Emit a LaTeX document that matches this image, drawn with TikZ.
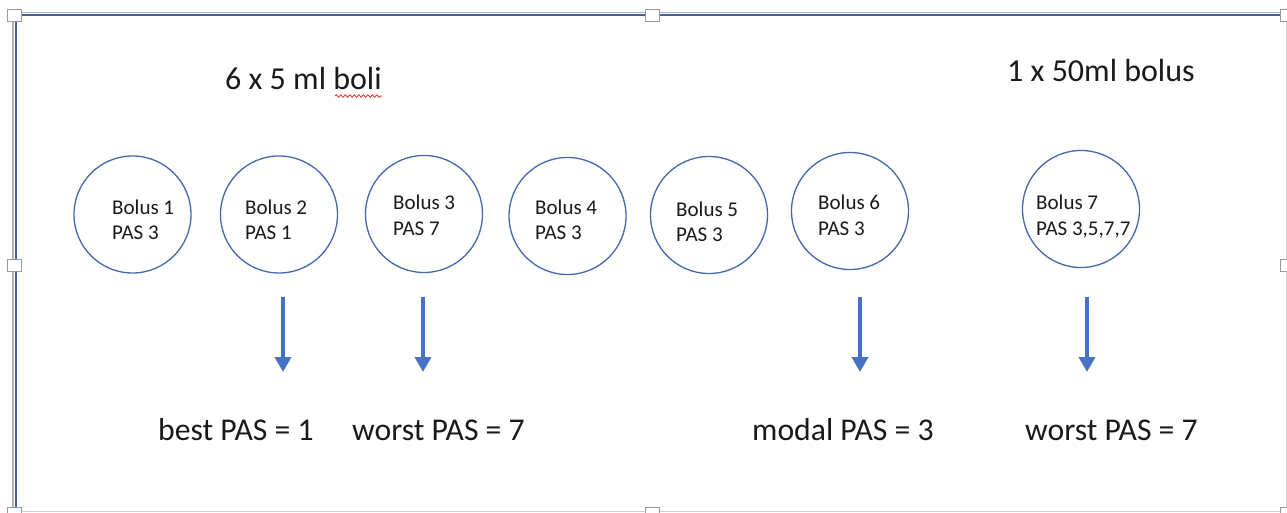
\documentclass[tikz,border=0pt]{standalone}
\usepackage{fontspec}
\setmainfont{Carlito}
\usetikzlibrary{arrows.meta,decorations.pathmorphing,shadows}

\definecolor{ringblue}{HTML}{4268AE}
\definecolor{arrowblue}{HTML}{4472C4}
\definecolor{frameblue}{HTML}{3E5FA6}
\definecolor{framegray}{HTML}{B4B4B4}
\definecolor{edgegray}{HTML}{D2D2D2}
\definecolor{inkgray}{HTML}{1A1A1A}
\definecolor{spellred}{HTML}{E0302E}

\begin{document}
\begin{tikzpicture}[x=1pt,y=-1pt,
  bolus/.style={circle, draw=ringblue, line width=1.3pt, minimum size=117pt, inner sep=0pt},
  % anchored at the baseline of the second line
  boltext/.style={anchor=base west, inner sep=0pt, align=left, text=inkgray,
                  font=\fontsize{21}{25}\selectfont},
  result/.style={anchor=base west, inner sep=0pt, text=inkgray,
                 font=\fontsize{31.7}{38}\selectfont},
  heading/.style={anchor=base west, inner sep=0pt, text=inkgray,
                  font=\fontsize{32}{38}\selectfont},
  pick/.style={-{Triangle[width=16pt,length=15pt]}, draw=arrowblue, line width=4pt},
  handle/.style={rectangle, draw=gray!80, fill=white, line width=0.8pt,
                 minimum width=14pt, minimum height=12pt, inner sep=0pt,
                 drop shadow={shadow xshift=0.8pt, shadow yshift=-0.8pt, opacity=0.35}}
]
\clip (0,0) rectangle (1287,513);
\useasboundingbox (0,0) rectangle (1287,513);
\fill[white] (0,0) rectangle (1287,513);

% selection frame
\coordinate (ftl) at (15,15);
\coordinate (ftr) at (1286,15);
\coordinate (fbl) at (15,511);
\coordinate (fbr) at (1286,511);
\draw[framegray, line width=1.6pt] ([yshift=2.3pt]ftl) -- ([yshift=2.3pt]ftr);
\draw[frameblue, line width=2pt] (ftl) -- (ftr);
\draw[framegray, line width=1.6pt] ([xshift=-2.2pt]ftl) -- ([xshift=-2.2pt]fbl);
\draw[frameblue, line width=2pt] ([xshift=0.6pt]ftl) -- ([xshift=0.6pt]fbl);
\draw[edgegray, line width=1pt] (ftr) -- (fbr);
\draw[edgegray, line width=1pt] (fbl) -- (fbr);

\node[handle] (h1) at (14.5,15) {};
\node[handle] (h2) at (652,15) {};
\node[handle] (h3) at (1287,15) {};
\node[handle] (h4) at (14.5,265) {};
\node[handle] (h5) at (1287,265) {};
\node[handle] (h6) at (14.5,513) {};
\node[handle] (h7) at (652,513) {};
\node[handle] (h8) at (1287,513) {};

% headings
\node[heading] (small) at (225,90) {6 x 5 ml boli};
\draw[spellred, line width=0.8pt, decorate,
      decoration={snake, amplitude=1.3pt, segment length=4.5pt}]
  (335,96) -- (382,96);
\node[heading] (large) at (1007,82) {1 x 50ml bolus};

% boluses
\node[bolus] (c1) at (132.5,214.5) {};
\node[bolus] (c2) at (279,214.5) {};
\node[bolus] (c3) at (424,214) {};
\node[bolus] (c4) at (567.5,216) {};
\node[bolus] (c5) at (709,215) {};
\node[bolus] (c6) at (850,211) {};
\node[bolus] (c7) at (1081,209) {};

\node[boltext] (t1) at (112,240) {Bolus 1\\PAS 3};
\node[boltext] (t2) at (245,240) {Bolus 2\\PAS 1};
\node[boltext] (t3) at (393,235) {Bolus 3\\PAS 7};
\node[boltext] (t4) at (535,240) {Bolus 4\\PAS 3};
\node[boltext] (t5) at (676,241) {Bolus 5\\PAS 3};
\node[boltext] (t6) at (818,235) {Bolus 6\\PAS 3};
\node[boltext] (t7) at (1036,235) {Bolus 7\\PAS 3,5,7,7};

% arrows to the summary scores
\coordinate (s2) at (283,297);  \coordinate (e2) at (283,372);
\coordinate (s3) at (423,297);  \coordinate (e3) at (423,372);
\coordinate (s6) at (860,297);  \coordinate (e6) at (860,372);
\coordinate (s7) at (1087,297); \coordinate (e7) at (1087,372);
\draw[pick] (s2) -- (e2);
\draw[pick] (s3) -- (e3);
\draw[pick] (s6) -- (e6);
\draw[pick] (s7) -- (e7);

% summary scores
\node[result] (best)   at (158,440)  {best PAS = 1};
\node[result] (worstA) at (352,440)  {worst PAS = 7};
\node[result] (modal)  at (752,440)  {modal PAS = 3};
\node[result] (worstB) at (1025,440) {worst PAS = 7};
\end{tikzpicture}
\end{document}
